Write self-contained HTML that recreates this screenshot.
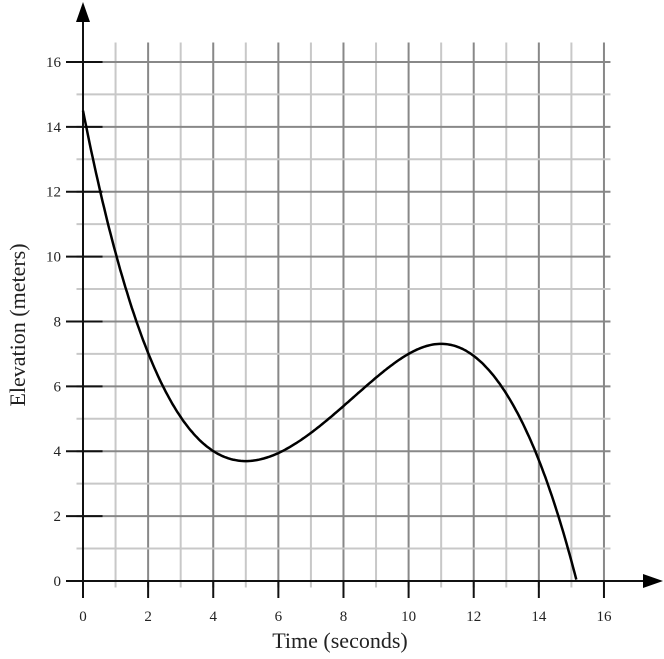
<!DOCTYPE html>
<html><head><style>body{margin:0;background:#fff}svg{display:block}</style></head>
<body>
<svg id="s" width="664" height="659" xmlns="http://www.w3.org/2000/svg" font-family="Liberation Serif, serif">
<g id="grid"></g>
<text x="340" y="648" font-size="22" text-anchor="middle" fill="#222">Time (seconds)</text>
<text transform="translate(25,325) rotate(-90)" font-size="22" text-anchor="middle" fill="#222">Elevation (meters)</text>
</svg>
<script>
const NS="http://www.w3.org/2000/svg",g=document.getElementById('grid');
const X=x=>83+32.56*x, Y=y=>581-32.44*y;
function el(t,a){const e=document.createElementNS(NS,t);for(const k in a)e.setAttribute(k,a[k]);g.appendChild(e);return e;}
for(let i=-0;i<=16;i++){const maj=i%2==0;if(i>0)el('line',{x1:X(i),y1:Y(16.6),x2:X(i),y2:Y(-0.2),stroke:maj?'#888':'#c8c8c8','stroke-width':2});}
for(let j=1;j<=16;j++){const maj=j%2==0;el('line',{x1:X(-0.2),y1:Y(j),x2:X(16.2),y2:Y(j),stroke:maj?'#888':'#c8c8c8','stroke-width':2});}
for(let i=0;i<=16;i+=2){el('line',{x1:X(i),y1:581,x2:X(i),y2:598,stroke:'#111','stroke-width':2});
 const t=el('text',{x:X(i),y:621,'font-size':15,'text-anchor':'middle',fill:'#222'});t.textContent=i;}
for(let j=0;j<=16;j+=2){el('line',{x1:66,y1:Y(j),x2:X(0.6),y2:Y(j),stroke:'#111','stroke-width':2});
 const t=el('text',{x:61,y:Y(j)+5,'font-size':15,'text-anchor':'end',fill:'#222'});t.textContent=j;}
el('line',{x1:83,y1:598,x2:83,y2:20,stroke:'#111','stroke-width':2});
el('polygon',{points:'83,2 76,22 90,22',fill:'#000'});
el('line',{x1:76,y1:581,x2:645,y2:581,stroke:'#111','stroke-width':2});
el('polygon',{points:'663,581 643,574 643,588',fill:'#000'});
const a=-0.0926;let pts=[];
for(let x=0;x<=15.2;x+=0.05){let y=a*(x*x*x/3-8*x*x+55*x)+14.5+0.28*Math.exp(-Math.pow((x-11)/2,2));if(y<0)y=0;pts.push(X(x).toFixed(1)+','+Y(y).toFixed(1));}
el('polyline',{points:pts.join(' '),fill:'none',stroke:'#000','stroke-width':2.5});
</script>
</body></html>
